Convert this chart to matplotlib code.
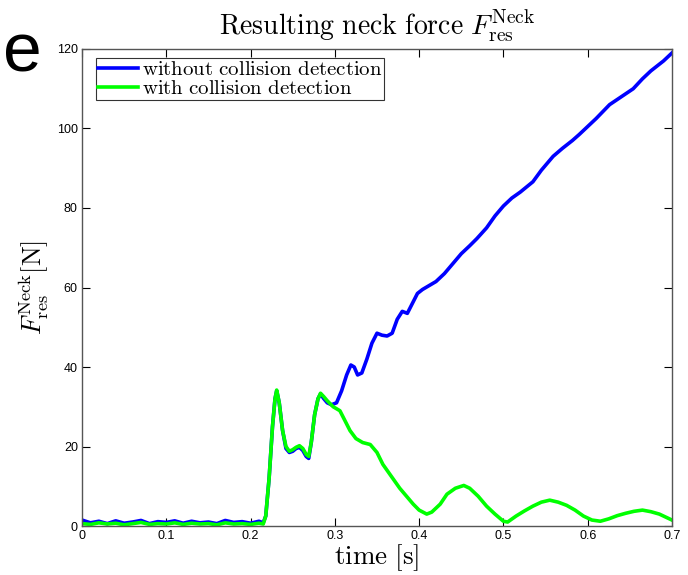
import matplotlib
matplotlib.use('Agg')
import matplotlib.pyplot as plt

plt.rcParams['mathtext.fontset'] = 'cm'
plt.rcParams['font.family'] = ['Liberation Sans', 'DejaVu Sans']

# shared start (both runs identical until the second impact)
t_start = [0, 0.01, 0.02, 0.03, 0.04, 0.05, 0.06, 0.07, 0.08, 0.09, 0.10, 0.11,
           0.12, 0.13, 0.14, 0.15, 0.16, 0.17, 0.18, 0.19, 0.20, 0.21, 0.215,
           0.218, 0.222, 0.226, 0.229, 0.231, 0.234, 0.238, 0.242, 0.246, 0.250,
           0.254, 0.258, 0.262, 0.266, 0.269, 0.272, 0.276, 0.280, 0.283, 0.287,
           0.291]
blue_start = [1.5, 0.8, 1.2, 0.6, 1.3, 0.7, 1.0, 1.4, 0.6, 1.1, 0.9, 1.3,
              0.7, 1.2, 0.8, 1.0, 0.6, 1.4, 0.9, 1.1, 0.7, 1.2, 0.8,
              2.5, 12, 25, 32, 34, 31, 24, 19.5, 18.5, 18.8,
              19.5, 19.8, 19, 17.5, 17, 21, 28, 32, 33.2, 32,
              31]
green_start = [0.6, 0.4, 0.8, 0.5, 0.7, 0.3, 0.6, 0.9, 0.4, 0.6, 0.5, 0.8,
               0.4, 0.7, 0.5, 0.6, 0.3, 0.8, 0.5, 0.6, 0.4, 0.7, 0.5,
               2.5, 12, 25, 32, 34.2, 31, 24, 20, 18.8, 19.2,
               19.8, 20.2, 19.5, 18, 17.5, 21, 28, 32, 33.4, 32.5,
               31.5]

# without collision detection, after 0.29 s
t_blue = [0.296, 0.302, 0.308, 0.314, 0.319, 0.323, 0.327, 0.332, 0.338, 0.344,
          0.350, 0.356, 0.362, 0.368, 0.374, 0.380, 0.386, 0.392, 0.398, 0.404,
          0.412, 0.420, 0.430, 0.440, 0.450, 0.460, 0.4685, 0.480, 0.490, 0.500,
          0.510, 0.520, 0.535, 0.545, 0.559, 0.570, 0.582, 0.590, 0.600, 0.610,
          0.626, 0.640, 0.654, 0.665, 0.675, 0.690, 0.700]
blue_end = [30.5, 31, 34, 38, 40.5, 40, 38, 38.5, 42, 46,
            48.5, 48, 47.8, 48.5, 52, 54, 53.5, 56, 58.5, 59.5,
            60.5, 61.5, 63.5, 66, 68.5, 70.5, 72.3, 75, 78, 80.5,
            82.5, 84, 86.6, 89.5, 93, 95, 97, 98.5, 100.5, 102.5,
            106, 108, 110, 112.5, 114.5, 117, 119]

# with collision detection, after 0.29 s
t_green = [0.298, 0.306, 0.312, 0.318, 0.325, 0.333, 0.342, 0.350, 0.357, 0.367,
           0.377, 0.385, 0.393, 0.400, 0.409, 0.415, 0.425, 0.433, 0.443, 0.453,
           0.460, 0.470, 0.480, 0.490, 0.500, 0.505, 0.515, 0.525, 0.535, 0.545,
           0.555, 0.565, 0.575, 0.585, 0.595, 0.605, 0.615, 0.625, 0.635, 0.645,
           0.655, 0.665, 0.675, 0.685, 0.695, 0.700]
green_end = [30, 29, 26.5, 24, 22, 21, 20.5, 18.5, 15.5, 12.5,
             9.5, 7.5, 5.5, 4, 3, 3.5, 5.5, 8, 9.5, 10.2,
             9.5, 7.5, 5, 3, 1.2, 1.0, 2.5, 3.8, 5, 6,
             6.5, 6, 5.2, 4, 2.5, 1.5, 1.2, 1.8, 2.6, 3.2,
             3.7, 4, 3.6, 3, 2, 1.5]

fig = plt.figure(figsize=(6.88, 5.75), dpi=100)
ax = fig.add_axes([0.1192, 0.0852, 0.8575, 0.8296])

ax.plot(t_start + t_blue, blue_start + blue_end, color='#0000ff', linewidth=2.6,
        label=r'$\mathrm{without\ collision\ detection}$')
ax.plot(t_start + t_green, green_start + green_end, color='#00ff00', linewidth=2.6,
        label=r'$\mathrm{with\ collision\ detection}$')

ax.set_xlim(0, 0.7)
ax.set_ylim(0, 120)
ax.set_xticks([0, 0.1, 0.2, 0.3, 0.4, 0.5, 0.6, 0.7])
ax.set_xticklabels(['0', '0.1', '0.2', '0.3', '0.4', '0.5', '0.6', '0.7'])
ax.set_yticks([0, 20, 40, 60, 80, 100, 120])
ax.tick_params(direction='in', top=True, right=True, length=6, width=0.8,
               labelsize=9, pad=3)
for s in ax.spines.values():
    s.set_color('#555555')
    s.set_linewidth(1.0)

ax.set_title(r'$\mathrm{Resulting\ neck\ force}\ F_{\mathrm{res}}^{\mathrm{Neck}}$',
             fontsize=20, pad=10)
ax.set_xlabel(r'$\mathrm{time\ [s]}$', fontsize=19.5, labelpad=0)
ax.set_ylabel(r'$F_{\mathrm{res}}^{\mathrm{Neck}}[\mathrm{N}]$', fontsize=19, labelpad=4)

leg = ax.legend(loc='upper left', bbox_to_anchor=(0.0237, 0.981), fontsize=15,
                frameon=True, fancybox=False, borderaxespad=0.0, borderpad=0.1,
                labelspacing=0.0, handlelength=1.9, handletextpad=0.2)
leg.get_frame().set_edgecolor('black')
leg.get_frame().set_linewidth(0.8)

# fragment of the slide the figure was cut from
fig.text(0.005, 0.876, 'e', fontsize=50, va='baseline', ha='left')

fig.savefig('out.png', dpi=100)
